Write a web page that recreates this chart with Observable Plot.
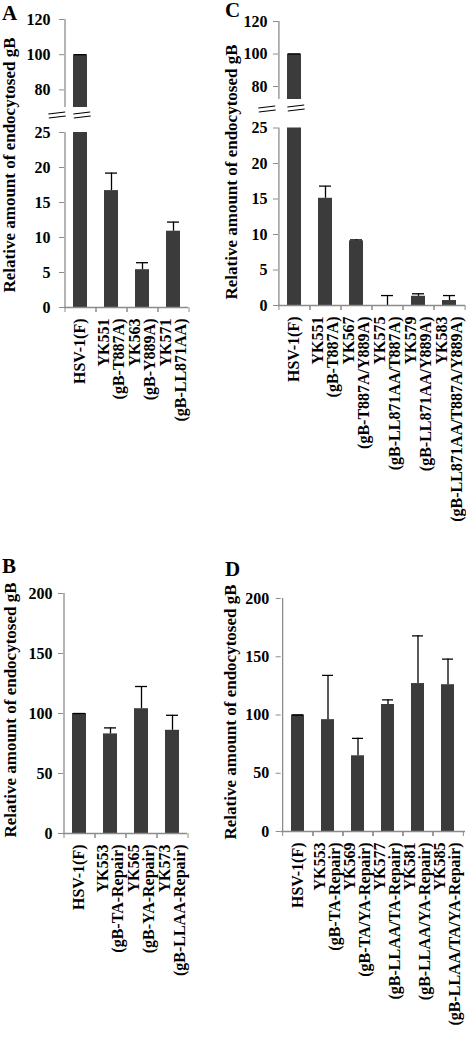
<!DOCTYPE html>
<html><head><meta charset="utf-8">
<script src="https://cdn.jsdelivr.net/npm/d3@7"></script>
<script src="https://cdn.jsdelivr.net/npm/@observablehq/plot@0.6"></script>
<style>
body{margin:0;background:#fff;}
#fig{position:relative;width:466px;height:1039px;overflow:hidden;font-family:"Liberation Serif","Times New Roman",serif;font-weight:bold;color:#000;}
#fig > svg{position:absolute;}
.ytitle{position:absolute;white-space:nowrap;font-size:17px;line-height:1;transform:translate(-50%,-50%) rotate(-90deg);}
.letter{position:absolute;font-size:21px;line-height:1;}
.brk{position:absolute;width:17px;height:3px;border-top:1.5px solid #000;border-bottom:1.5px solid #000;transform:translate(-50%,-50%) rotate(-7deg);}
</style></head><body><div id="fig"></div><script>
// Panel A
const catsA = ["HSV-1(F)", "YK551\n(gB-T887A)", "YK563\n(gB-Y889A)", "YK571\n(gB-LL871AA)"];
const valsA = [100, 16.7, 5.4, 10.9];
const errsA = [0, 2.5, 1.0, 1.3];
// Panel C
const catsC = ["HSV-1(F)", "YK551\n(gB-T887A)", "YK567\n(gB-T887A/Y889A)", "YK575\n(gB-LL871AA/T887A)", "YK579\n(gB-LL871AA/Y889A)", "YK583\n(gB-LL871AA/T887A/Y889A)"];
const valsC = [100, 15.1, 9.1, 0, 1.3, 0.7];
const errsC = [0, 1.7, 0.15, 1.4, 0.35, 0.7];
// Panel B
const catsB = ["HSV-1(F)", "YK553\n(gB-TA-Repair)", "YK565\n(gB-YA-Repair)", "YK573\n(gB-LLAA-Repair)"];
const valsB = [100, 83, 104, 86];
const errsB = [0, 5, 18.5, 12.5];
// Panel D
const catsD = ["HSV-1(F)", "YK553\n(gB-TA-Repair)", "YK569\n(gB-TA/YA-Repair)", "YK577\n(gB-LLAA/TA-Repair)", "YK581\n(gB-LLAA/YA-Repair)", "YK585\n(gB-LLAA/TA/YA-Repair)"];
const valsD = [100, 96, 65, 109, 127, 126];
const errsD = [0, 38, 15, 4, 41, 22];
// axis ticks
const ticksBroken = [0, 5, 10, 15, 20, 25];
const ticksUpper = [80, 100, 120];
const ticks200 = [0, 50, 100, 150, 200];
const yTitle = "Relative amount of endocytosed gB";

const fig = document.getElementById("fig");
const GRAY = "#8c8c8c", BAR = "#3b3b3b";

function panel(o) {
  const data = o.cats.map((c, i) => ({cat: c, v: o.vals[i], top: o.vals[i] + o.errs[i]}));
  const n = o.cats.length;
  const step = (o.width - o.ml - o.mr) / n;
  const marks = [
    Plot.barY(data, {x: "cat", y: "v", fill: BAR, clip: true}),
    Plot.ruleX(data, {x: "cat", y1: "v", y2: "top", stroke: "#000", strokeWidth: 1.3, clip: true}),
    Plot.tickY(data, {x: "cat", y: "top", stroke: "#000", strokeWidth: 1.3, inset: 1, clip: true}),
    Plot.axisY({ticks: o.yTicks, tickSize: 5, tickPadding: o.tp, stroke: GRAY, fill: "#000", label: null}),
    Plot.ruleX([o.cats[0]], {x: d => d, dx: -step / 2, stroke: GRAY, strokeWidth: 1.3})
  ];
  if (o.lower) {
    marks.push(
      Plot.ruleY([0], {stroke: GRAY, strokeWidth: 1.3}),
      Plot.axisX({tickSize: 5, tickFormat: () => "", dx: step / 2, stroke: GRAY, label: null}),
      Plot.axisX({tickSize: 5, tickFormat: () => "", dx: -step / 2, stroke: GRAY, label: null}),
      Plot.text(o.cats, {x: d => d, frameAnchor: "bottom", rotate: -90, textAnchor: "end", lineAnchor: "middle", lineHeight: 0.93, dy: o.lp, fill: "#000", fontSize: 16})
    );
  } else {
    marks.push(Plot.axisX({ticks: [], label: null}));
  }
  const svg = Plot.plot({
    width: o.width, height: o.height,
    marginTop: o.mt, marginBottom: o.mb, marginLeft: o.ml, marginRight: o.mr,
    x: {type: "band", domain: o.cats, paddingInner: 0.56, paddingOuter: 0.28, axis: null},
    y: {domain: o.yDomain, nice: false, axis: null},
    style: {fontFamily: "'Liberation Serif', 'Times New Roman', serif", fontSize: "16px", fontWeight: "bold", background: "transparent", overflow: "visible"},
    marks
  });
  svg.style.left = o.left + "px";
  svg.style.top = o.top + "px";
  fig.appendChild(svg);
}

panel({cats: catsA, vals: valsA, errs: errsA, yDomain: [70, 120], yTicks: ticksUpper, left: 0, top: 0, width: 233, height: 110, mt: 19, mb: 3, ml: 64, mr: 45, tp: 9, lower: false});
panel({cats: catsA, vals: valsA, errs: errsA, yDomain: [0, 25], yTicks: ticksBroken, left: 0, top: 120, width: 233, height: 420, mt: 12, mb: 233, ml: 64, mr: 45, tp: 9, lp: 11, lower: true});
panel({cats: catsC, vals: valsC, errs: errsC, yDomain: [72, 120], yTicks: ticksUpper, left: 233, top: 0, width: 233, height: 102, mt: 21, mb: 3, ml: 45, mr: 1, tp: 6, lower: false});
panel({cats: catsC, vals: valsC, errs: errsC, yDomain: [0, 25], yTicks: ticksBroken, left: 233, top: 120, width: 233, height: 420, mt: 7.5, mb: 235, ml: 45, mr: 1, tp: 6, lp: 11, lower: true});
panel({cats: catsB, vals: valsB, errs: errsB, yDomain: [0, 200], yTicks: ticks200, left: 0, top: 560, width: 233, height: 479, mt: 33, mb: 206, ml: 63, mr: 46, tp: 6, lp: 11, lower: true});
panel({cats: catsD, vals: valsD, errs: errsD, yDomain: [0, 200], yTicks: ticks200, left: 233, top: 560, width: 233, height: 479, mt: 38, mb: 208, ml: 47.7, mr: 1, tp: 7, lp: 11, lower: true});

function addDiv(cls, text, x, y) {
  const d = document.createElement("div");
  d.className = cls;
  d.textContent = text;
  d.style.left = x + "px";
  d.style.top = y + "px";
  fig.appendChild(d);
}
addDiv("ytitle", yTitle, 9, 165);
addDiv("ytitle", yTitle, 231, 172);
addDiv("ytitle", yTitle, 10, 710);
addDiv("ytitle", yTitle, 230, 712);
addDiv("letter", "A", 2, 3);
addDiv("letter", "C", 225, 0);
addDiv("letter", "B", 2, 556);
addDiv("letter", "D", 225, 559);
addDiv("brk", "", 57, 115);
addDiv("brk", "", 82, 115);
addDiv("brk", "", 267, 109);
addDiv("brk", "", 296, 108);
</script></body></html>
